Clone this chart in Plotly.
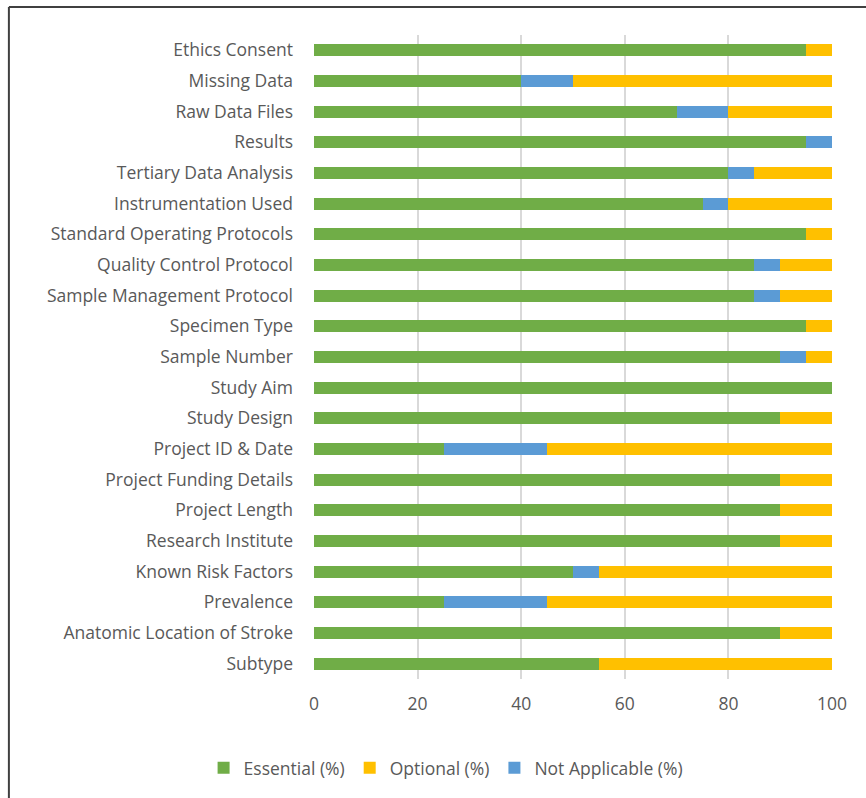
import plotly.graph_objects as go

categories = [
    "Ethics Consent", "Missing Data", "Raw Data Files", "Results",
    "Tertiary Data Analysis", "Instrumentation Used", "Standard Operating Protocols",
    "Quality Control Protocol", "Sample Management Protocol", "Specimen Type",
    "Sample Number", "Study Aim", "Study Design", "Project ID & Date",
    "Project Funding Details", "Project Length", "Research Institute",
    "Known Risk Factors", "Prevalence", "Anatomic Location of Stroke", "Subtype",
]
essential = [95, 40, 70, 95, 80, 75, 95, 85, 85, 95, 90, 100, 90, 25, 90, 90, 90, 50, 25, 90, 55]
not_applicable = [0, 10, 10, 5, 5, 5, 0, 5, 5, 0, 5, 0, 0, 20, 0, 0, 0, 5, 20, 0, 0]
optional = [5, 50, 20, 0, 15, 20, 5, 10, 10, 5, 5, 0, 10, 55, 10, 10, 10, 45, 55, 10, 45]

FONT = "Open Sans"
FS = 17.5
fig = go.Figure()
fig.add_trace(go.Bar(y=categories, x=essential, orientation="h", name="Essential (%)",
                     marker=dict(color="#70AD47", line=dict(width=0)), legendrank=1))
fig.add_trace(go.Bar(y=categories, x=not_applicable, orientation="h", name="Not Applicable (%)",
                     marker=dict(color="#5B9BD5", line=dict(width=0)), legendrank=3))
fig.add_trace(go.Bar(y=categories, x=optional, orientation="h", name="Optional (%)",
                     marker=dict(color="#FFC000", line=dict(width=0)), legendrank=2))

fig.update_layout(
    barmode="stack",
    bargap=0.6,
    width=866, height=798,
    margin=dict(l=314, r=34, t=35, b=119),
    plot_bgcolor="white", paper_bgcolor="white",
    font=dict(family=FONT, size=FS, color="#595959"),
    showlegend=True,
    legend=dict(orientation="h", x=0.255, xanchor="center", y=-0.138, yanchor="middle",
                font=dict(size=FS, color="#595959"), traceorder="normal",
                itemwidth=30, tracegroupgap=0),
    xaxis=dict(range=[0, 100], tickvals=[0, 20, 40, 60, 80, 100], showgrid=True,
               gridcolor="#D9D9D9", gridwidth=1.5, zeroline=False, showline=False,
               ticks="", ticklabelstandoff=12, tickfont=dict(size=FS, color="#595959")),
    yaxis=dict(categoryorder="array", categoryarray=categories[::-1], showgrid=False,
               showline=False, zeroline=False, ticks="", ticklabelstandoff=20,
               tickfont=dict(size=FS, color="#595959")),
    shapes=[
        dict(type="line", xref="paper", yref="paper", x0=-0.589, x1=2, y0=1.0435, y1=1.0435,
             line=dict(color="#404040", width=2)),
        dict(type="line", xref="paper", yref="paper", x0=-0.589, x1=-0.589, y0=1.0435, y1=-1,
             line=dict(color="#404040", width=2)),
    ],
)

fig.write_html("out.html")
